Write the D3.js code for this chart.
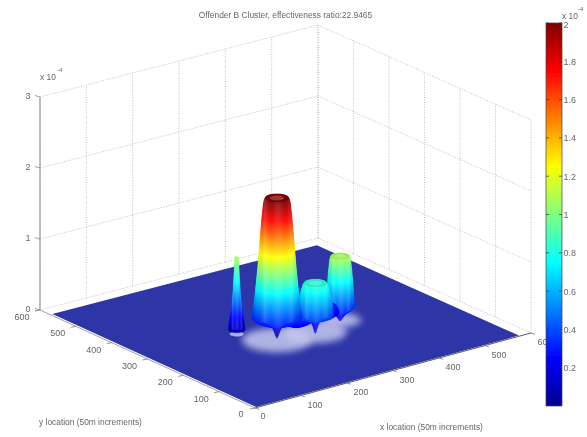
<!DOCTYPE html>
<html><head><meta charset="utf-8">
<script src="https://cdn.jsdelivr.net/npm/d3@7/dist/d3.min.js"></script>
<style>html,body{margin:0;padding:0;background:#fff}svg{display:block}text{font-family:"Liberation Sans",Arial,sans-serif;fill:#666}</style>
</head><body><svg id="c" width="587" height="437"></svg>
<script>
// ---- data (z values in units of 1e-4) ----
const titleText = "Offender B Cluster, effectiveness ratio:22.9465";
const xLabelText = "x location (50m increments)";
const yLabelText = "y location (50m increments)";
const xTicks = [0,100,200,300,400,500,600];
const yTicks = [0,100,200,300,400,500,600];
const zTicks = [0,1,2,3];
const cbTicks = [0.2,0.4,0.6,0.8,1,1.2,1.4,1.6,1.8,2];
const jetStops = [0,0.25,0.75,1.25,1.75,2];
const jetColors = ["#00008f","#0000ff","#00ffff","#ffff00","#ff0000","#800000"];
const floorXRange = [5,576];
const floorYRange = [3,572];

const peakBigCenter = [234,240];
const peakBigLevels = [0.03,0.07,0.12,0.18,0.23,0.27,0.31,0.6,1.0,1.31,1.7,1.9,1.97,2];
const peakBigRadius = [1,3,5,8,16,34,43,38,33,30,26,23.5,22,20];
const peakMidCenter = [280,192];
const peakMidLevels = [0.13,0.18,0.24,0.29,0.33,0.37,0.49,0.64,0.76,0.81,0.83];
const peakMidRadius = [1,3,5,8,16,31,30,27,23,21,19];
const peakBackCenter = [344,205];
const peakBackLevels = [0.17,0.21,0.25,0.29,0.33,0.37,0.57,0.87,1.02,1.07];
const peakBackRadius = [2,5,9,14,22,25,23,20,18,16];
const peakThinCenter = [197,305];
const peakThinLevels = [0.06,0.15,0.3,0.6,0.9,1.08];
const peakThinRadius = [14,13,10,6.5,4.5,3.5];
const saddleNearCenter = [265,226];
const saddleNearLevels = [0.18,0.24,0.3,0.42];
const saddleNearRadius = [10,26,30,20];
const saddleFarCenter = [342,240];
const saddleFarLevels = [0.12,0.2,0.3];
const saddleFarRadius = [8,22,16];
const glowCenters = [[234,240],[310,232],[380,252]];
const glowRadius = [60,55,36];
const footSpot = [197,305];

// ---- scales ----
const uX=d3.scaleLinear([0,600],[0,1]), uY=d3.scaleLinear([0,600],[0,1]);
const zPx=d3.scaleLinear([0,3],[0,213]);
function P(x,y,z=0){
  const u=uX(x),v=uY(y);
  return [255+276*u-215*v+2*u*v, 408-75*u-98*v+3*u*v-zPx(z)];
}
const jet=d3.scaleLinear(jetStops,jetColors).clamp(true);
const svg=d3.select("#c");
const defs=svg.append("defs");
const soft=defs.append("filter").attr("id","soft").attr("x","-5%").attr("y","-5%").attr("width","110%").attr("height","110%");
soft.append("feGaussianBlur").attr("stdDeviation",0.45);
const halo=defs.append("filter").attr("id","halo").attr("x","-40%").attr("y","-80%").attr("width","180%").attr("height","260%");
halo.append("feGaussianBlur").attr("stdDeviation",3.5);
const shade=defs.append("linearGradient").attr("id","shade");
[[0,"#000",.16],[.12,"#000",.02],[.25,"#fff",.16],[.38,"#fff",.03],[.52,"#fff",.15],[.68,"#fff",.03],[.8,"#fff",.14],[.92,"#000",.04],[1,"#000",.16]]
 .forEach(s=>shade.append("stop").attr("offset",s[0]).attr("stop-color",s[1]).attr("stop-opacity",s[2]));

const g=svg.append("g").attr("filter","url(#soft)");
const line=d3.line();
const seg=(a,b,col,w,dash)=>g.append("line").attr("x1",a[0]).attr("y1",a[1]).attr("x2",b[0]).attr("y2",b[1]).attr("stroke",col).attr("stroke-width",w).attr("stroke-dasharray",dash||null);

// ---- walls grid ----
const gridCol="#b4b4b4", dot="1 1.5";
xTicks.forEach(x=>seg(P(x,600,0),P(x,600,3),gridCol,.8,dot));
yTicks.forEach(y=>seg(P(600,y,0),P(600,y,3),gridCol,.8,dot));
zTicks.forEach(z=>{seg(P(0,600,z),P(600,600,z),gridCol,.8,dot);seg(P(600,600,z),P(600,0,z),gridCol,.8,dot);});

// ---- z axis ----
seg(P(0,600,0),P(0,600,3),"#888",1);
zTicks.forEach(z=>{const p=P(0,600,z);seg(p,[p[0]-5,p[1]-1.5],"#888",.8);
 g.append("text").attr("x",p[0]-12).attr("y",p[1]+1.5).attr("font-size",9).attr("text-anchor","middle").text(z);});
g.append("text").attr("x",40).attr("y",80).attr("font-size",8.5).text("x 10");
g.append("text").attr("x",57).attr("y",72).attr("font-size",6).text("-4");

// ---- floor ----
const [fx0,fx1]=floorXRange,[fy0,fy1]=floorYRange;
g.append("path").attr("d",line([P(fx0,fy0),P(fx1,fy0),P(fx1,fy1),P(fx0,fy1)])+"Z").attr("fill","#2d35a6");

// ---- axes on floor ----
seg(P(0,0),P(600,0),"#333",.8);
seg(P(0,0),P(0,600),"#888",.8);
xTicks.forEach(x=>{const p=P(x,0);seg(p,[p[0]+4,p[1]+1.3],"#777",.8);});
yTicks.forEach(y=>{const p=P(0,y);seg(p,[p[0]-5,p[1]+1],"#777",.8);});
xTicks.forEach(x=>{const p=P(x,0);g.append("text").attr("x",p[0]+(x===0?8:14)).attr("y",p[1]+(x===0?11:12)).attr("font-size",9).attr("text-anchor","middle").text(x);});
yTicks.forEach(y=>{const p=P(0,y);g.append("text").attr("x",p[0]-(y===0?14:18)).attr("y",p[1]+(y===0?9:10)).attr("font-size",9).attr("text-anchor","middle").text(y);});

// ---- floor glow ----
const angles=d3.range(0,360,10).map(d=>d*Math.PI/180);
const ring=(c,r,z)=>angles.map(a=>P(c[0]+r*Math.cos(a),c[1]+r*Math.sin(a),z));
glowCenters.forEach((c,i)=>g.append("path").attr("d",line(ring(c,glowRadius[i],0))+"Z").attr("fill","#c6c9ee").attr("opacity",.85).attr("filter","url(#halo)"));
g.append("path").attr("d",line(ring(footSpot,12,0))+"Z").attr("fill","#a9aedf");

// ---- towers: back to front, stacked slices ----
function tower(c,levels,radius,capped=true){
  const rs=d3.scaleLinear(levels,radius);
  const top=levels[levels.length-1];
  const zs=d3.range(levels[0],top,0.012).concat([top]);
  const t=g.append("g");
  const left=[],right=[];
  zs.forEach(z=>{
    const pts=ring(c,rs(z),z);
    t.append("path").attr("d",line(pts)+"Z").attr("fill",jet(z)).attr("stroke",jet(z)).attr("stroke-width",.4);
    const xs=pts.map(p=>p[0]),cy=P(c[0],c[1],z)[1];
    left.push([d3.min(xs),cy]);right.push([d3.max(xs),cy]);
  });
  if(!capped) return;
  t.append("path").attr("d",line(left.concat(right.reverse()))+"Z").attr("fill","url(#shade)");
  t.append("path").attr("d",line(ring(c,rs(top)*1.02,top))+"Z").attr("fill",d3.color(jet(top)).darker(.2));
  t.append("path").attr("d",line(ring(c,rs(top)*.6,top))+"Z").attr("fill","#fff").attr("opacity",.22);
}
tower(peakBackCenter,peakBackLevels,peakBackRadius);
tower(saddleFarCenter,saddleFarLevels,saddleFarRadius,false);
tower(saddleNearCenter,saddleNearLevels,saddleNearRadius,false);
tower(peakMidCenter,peakMidLevels,peakMidRadius);
tower(peakThinCenter,peakThinLevels,peakThinRadius);
tower(peakBigCenter,peakBigLevels,peakBigRadius);

// ---- colour bar ----
const cbY=d3.scaleLinear([0,2],[406,23]);
const cbX=[546,562];
const cg=defs.append("linearGradient").attr("id","jet").attr("x1",0).attr("x2",0).attr("y1",1).attr("y2",0);
jetStops.forEach((s,i)=>cg.append("stop").attr("offset",s/2).attr("stop-color",jetColors[i]));
g.append("rect").attr("x",cbX[0]).attr("y",cbY(2)).attr("width",cbX[1]-cbX[0]).attr("height",cbY(0)-cbY(2)).attr("fill","url(#jet)").attr("stroke","#444").attr("stroke-width",.7);
cbTicks.forEach(t=>{const y=cbY(t);
 g.append("line").attr("x1",cbX[0]).attr("x2",cbX[0]+3).attr("y1",y).attr("y2",y).attr("stroke","#333").attr("stroke-width",.7);
 g.append("line").attr("x1",cbX[1]-3).attr("x2",cbX[1]).attr("y1",y).attr("y2",y).attr("stroke","#333").attr("stroke-width",.7);
 g.append("text").attr("x",cbX[1]+1.5).attr("y",t===2?28:y+3.5).attr("font-size",9).text(t);
});
g.append("text").attr("x",562).attr("y",18.5).attr("font-size",8.5).text("x 10");
g.append("text").attr("x",578).attr("y",11).attr("font-size",6).text("-4");

// ---- titles ----
g.append("text").attr("x",285.5).attr("y",18).attr("font-size",8.4).attr("text-anchor","middle").text(titleText);
g.append("text").attr("x",39).attr("y",425).attr("font-size",8.4).text(yLabelText);
g.append("text").attr("x",380).attr("y",430).attr("font-size",8.4).text(xLabelText);
</script></body></html>
